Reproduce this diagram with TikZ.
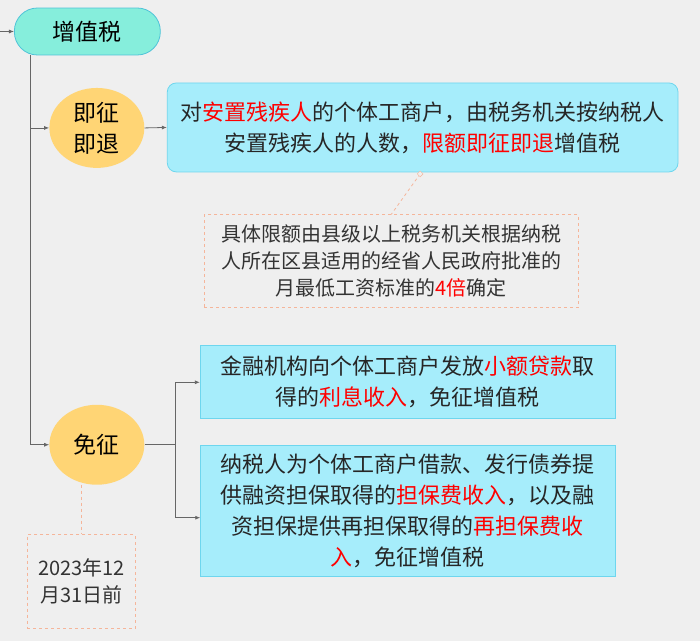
\documentclass[tikz,border=0pt]{standalone}
\usepackage{fontspec}
\setmainfont{Noto Sans CJK SC}
\usetikzlibrary{arrows.meta,shapes.geometric}
\definecolor{bg}{HTML}{EFEFEF}
\definecolor{mint}{HTML}{86EEDC}
\definecolor{mintb}{HTML}{4FC3D8}
\definecolor{cyanbox}{HTML}{A6EDFB}
\definecolor{cyanb}{HTML}{6ED6EE}
\definecolor{gold}{HTML}{FFD575}
\definecolor{peach}{HTML}{F5B59A}
\definecolor{hl}{HTML}{FF0000}
\tikzset{
 ln/.style={draw=gray!80!black,line width=0.8pt},
 arr/.style={ln,-{Latex[length=5pt,width=4pt]}},
 oval/.style={ellipse,fill=gold,minimum width=95pt,minimum height=80pt,font=\fontsize{23}{31}\selectfont,align=center,inner sep=0pt},
 cbox/.style={draw=cyanb,fill=cyanbox,line width=0.8pt,font=\fontsize{22}{31}\selectfont,align=center,inner sep=0pt,text=black!85},
 dbox/.style={draw=peach,dashed,line width=0.8pt,font=\fontsize{20}{27}\selectfont,align=center,inner sep=0pt,text=black!80},
}
\newcommand{\R}[1]{\textcolor{hl}{#1}}
\begin{document}
\begin{tikzpicture}[x=1pt,y=-1pt]
\fill[bg] (0,0) rectangle (700,641);
\node[draw=mintb,fill=mint,rounded corners=23pt,line width=0.8pt,minimum width=146pt,minimum height=47pt,font=\fontsize{23}{26}\selectfont] (vat) at (87,31.5) {增值税};
\coordinate (in) at (0,31.5);
\draw[arr] (in) -- (vat.west);
\node[oval] (jz) at (96.5,128) {即征\\即退};
\node[oval] (mz) at (96.5,445) {免征};
\draw[ln] (30,55) -- (30,445);
\draw[arr] (30,128) -- (jz.west);
\draw[arr] (30,445) -- (mz.west);
\node[cbox,rounded corners=9pt,minimum width=511pt,minimum height=89pt] (b1) at (422.5,127.5) {对\R{安置残疾人}的个体工商户，由税务机关按纳税人\\安置残疾人的人数，\R{限额即征即退}增值税};
\draw[arr] (jz.east) -- (b1.west);
\node[dbox,minimum width=374pt,minimum height=93pt] (c1) at (391,261.5) {具体限额由县级以上税务机关根据纳税\\人所在区县适用的经省人民政府批准的\\月最低工资标准的\R{4倍}确定};
\coordinate (tip) at (420,174);
\draw[peach,dashed,line width=0.8pt] (tip) -- (c1.north);
\node[draw=peach,diamond,fill=bg,inner sep=1.5pt] at (tip) {};
\node[cbox,minimum width=415pt,minimum height=73pt] (b2) at (407.5,382.5) {金融机构向个体工商户发放\R{小额贷款}取\\得的\R{利息收入}，免征增值税};
\node[cbox,minimum width=415pt,minimum height=131pt] (b3) at (407.5,511.5) {纳税人为个体工商户借款、发行债券提\\供融资担保取得的\R{担保费收入}，以及融\\资担保提供再担保取得的\R{再担保费收}\\\R{入}，免征增值税};
\coordinate (sp) at (175,445);
\draw[ln] (mz.east) -- (sp);
\draw[arr] (sp) |- (b2.west);
\draw[arr] (sp) |- (200,518);
\node[dbox,minimum width=108pt,minimum height=94pt] (d) at (81,582) {2023年12\\月31日前};
\draw[peach,dashed,line width=0.8pt] (81,485) -- (d.north);
\end{tikzpicture}
\end{document}
